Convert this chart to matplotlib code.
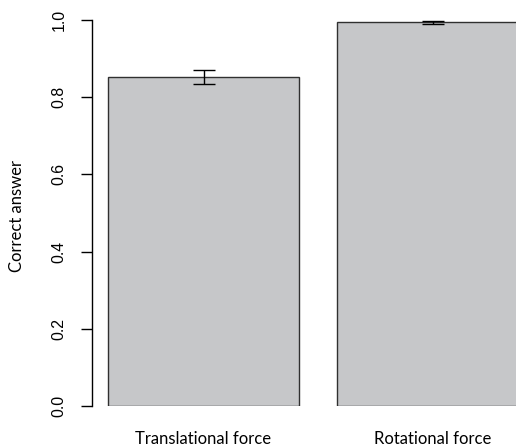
import numpy as np
import matplotlib.pyplot as plt

categories = ['Translational force', 'Rotational force']
means = [0.854, 0.995]
errors = [0.018, 0.004]

plt.rcParams['font.family'] = ['Liberation Sans', 'DejaVu Sans']

fig = plt.figure(figsize=(5.16, 4.47), dpi=100)
ax = fig.add_axes([69.8 / 516, 41.3 / 447, 458.4 / 516, 385.4 / 447])

pos = np.array([0.7, 1.9])
ax.bar(pos, means, width=1.0, color='#c6c7c9', edgecolor='#303030', linewidth=1.0)
ax.errorbar(pos, means, yerr=errors, fmt='none', ecolor='black',
            elinewidth=1.0, capsize=7.9, capthick=1.0)

ax.set_xlim(0, 2.4)
ax.set_ylim(0, 1.0)

for s in ['top', 'right', 'bottom']:
    ax.spines[s].set_visible(False)
ax.spines['left'].set_position(('data', (92 - 69.8) / 191))
ax.spines['left'].set_bounds(0, 1)
ax.spines['left'].set_linewidth(1.0)

ax.set_yticks(np.arange(0, 1.01, 0.2))
ax.set_yticklabels(['0.0', '0.2', '0.4', '0.6', '0.8', '1.0'], rotation=90, va='center')
ax.tick_params(axis='y', length=8, width=1.0, pad=10.5, labelsize=11.4)

ax.set_xticks(pos)
ax.set_xticklabels(categories, family=['Lato', 'DejaVu Sans'], fontsize=12)
ax.tick_params(axis='x', length=0, pad=18)

fig.text(17 / 516, 1 - 216 / 447, 'Correct answer', rotation=90, ha='center', va='center',
         family=['Lato', 'DejaVu Sans'], fontsize=12)

fig.savefig('out.png', dpi=100)
